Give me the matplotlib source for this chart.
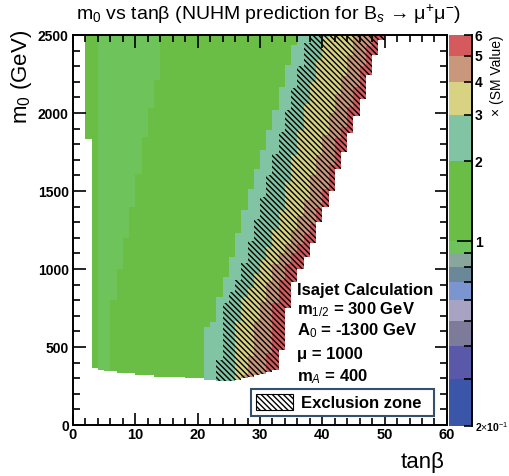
import numpy as np
import matplotlib
matplotlib.use("Agg")
import matplotlib.pyplot as plt
from matplotlib.colors import ListedColormap, BoundaryNorm
from matplotlib.patches import Patch

plt.rcParams['font.family'] = ['Liberation Sans', 'DejaVu Sans']
plt.rcParams['mathtext.fontset'] = 'custom'
plt.rcParams['mathtext.rm'] = 'Liberation Sans'
plt.rcParams['mathtext.it'] = 'Liberation Sans:italic'
plt.rcParams['mathtext.bf'] = 'Liberation Sans:bold'
plt.rcParams['hatch.color'] = 'black'
plt.rcParams['hatch.linewidth'] = 1.0

# palette levels (x SM value) and their colours
levels = [0.2, 0.3, 0.4, 0.5, 0.6, 0.7, 0.8, 0.9, 1, 2, 3, 4, 5, 6]
level_colors = ['#3b55a8', '#5a58a8', '#7c7b9a', '#a8a3c2', '#7b95d0', '#6a8898',
                '#88a69c', '#6ec35a', '#6abd45', '#80c4a4', '#d8d382', '#c9977c', '#d45a5e']

# tan(beta) bins (width 1), value read per column as m0 thresholds (GeV)
columns = list(range(2, 50))
floor_m0 = [1835, 363, 352, 346, 346, 335, 335, 335, 320, 320,
            320, 310, 310, 310, 310, 310, 299, 299, 299, 292,
            292, 284, 284, 284, 290, 300, 310, 320, 330, 340,
            350, 480, 750, 920, 1000, 1080, 1170, 1300, 1400, 1500,
            1640, 1750, 1870, 1980, 2090, 2244, 2370, 2470]
light_above = [9999, 9999, 0, 0, 800, 1000, 1200, 1400, 1611, 1845, 2037, 2208] + [9999] * 36
teal_below = [0] * 19 + [630, 660, 821, 950, 1080, 1230, 1380, 1510, 1640, 1760,
                         1890, 2020, 2170, 2308, 2436] + [2500] * 14
yellow_below = [0] * 24 + [670, 820, 880, 970, 1060, 1140, 1250, 1380, 1560, 1730,
                           1890, 2060, 2200, 2340, 2490] + [2500] * 9
tan_below = [0] * 25 + [320, 440, 672, 790, 915, 1035, 1100, 1160, 1250, 1340,
                        1442, 1600, 1730, 1860, 2000, 2120, 2240, 2370] + [2500] * 5
red_below = [0] * 29 + [460, 780, 930, 1030, 1100, 1160, 1225, 1290, 1390, 1510,
                        1670, 1840, 1910, 2040, 2170, 2300, 2430] + [2500] * 2
hatch_below = [0] * 21 + [420, 780, 850, 930, 1040, 1180, 1320, 1460, 1600, 1740,
                          1880, 2020, 2160, 2300, 2450] + [2500] * 12

info_lines = ['Isajet Calculation', r'm$_{1/2}$ = 300 GeV', r'A$_{0}$ = -1300 GeV',
              'μ = 1000', r'm$_{A}$ = 400']

fig = plt.figure(figsize=(5.10, 4.76), dpi=100)
ax = fig.add_axes([0.1431, 0.1071, 0.7333, 0.8193])
cax = fig.add_axes([0.8804, 0.105, 0.0451, 0.8214])

cmap = ListedColormap(level_colors)
norm = BoundaryNorm(levels, cmap.N)

x_edges = np.arange(0, 61)
y_edges = np.arange(0, 2505, 5)
yc = (y_edges[:-1] + y_edges[1:]) / 2
Z = np.full((len(yc), 60), np.nan)
for i, c in enumerate(columns):
    v = np.where(yc >= light_above[i], 0.95, 1.5)
    v = np.where(yc < teal_below[i], 2.5, v)
    v = np.where(yc < yellow_below[i], 3.5, v)
    v = np.where(yc < tan_below[i], 4.5, v)
    v = np.where(yc < red_below[i], 5.5, v)
    Z[:, c] = np.where(yc >= floor_m0[i], v, np.nan)

ax.pcolormesh(x_edges, y_edges, np.ma.masked_invalid(Z), cmap=cmap, norm=norm)

hatch = '\\' * 6
for i, c in enumerate(columns):
    top = min(hatch_below[i], 2500)
    if top > floor_m0[i]:
        ax.bar(c, top - floor_m0[i], bottom=floor_m0[i], width=1, align='edge',
               color='none', hatch=hatch, linewidth=0)

ax.set_xlim(0, 60)
ax.set_ylim(0, 2500)
ax.set_xticks(np.arange(0, 61, 10))
ax.set_xticks(np.arange(0, 61, 2), minor=True)
ax.set_yticks(np.arange(0, 2501, 500))
ax.set_yticks(np.arange(0, 2501, 100), minor=True)
ax.tick_params(which='both', direction='in', top=True, right=True, width=1.2)
ax.tick_params(which='major', length=9)
ax.tick_params(which='minor', length=5)
ax.tick_params(axis='x', which='major', labelsize=10.5, pad=2)
ax.tick_params(axis='y', which='major', labelsize=10, pad=3)
for lab in ax.get_xticklabels() + ax.get_yticklabels():
    lab.set_fontweight('bold')
for s in ax.spines.values():
    s.set_linewidth(1.4)

ypix = [865, 737, 602, 449, 308]
for txt, y in zip(info_lines, ypix):
    ax.text(35.9, y, txt, fontsize=12, fontweight='bold', va='center', ha='left')

leg = ax.legend(handles=[Patch(facecolor='white', edgecolor='black', hatch=hatch,
                               linewidth=0.8, label='Exclusion zone')],
                loc='lower left', bbox_to_anchor=(0.476, 0.023, 0.489, 0.08),
                mode='expand', fancybox=False, framealpha=1, borderpad=0.3,
                handlelength=2.2, handleheight=1.1, handletextpad=0.5,
                borderaxespad=0.0, prop={'weight': 'bold', 'size': 12})
leg.get_frame().set_edgecolor('#34506a')
leg.get_frame().set_linewidth(1.5)

# colour palette axis (log scale)
for lo, hi, col in zip(levels[:-1], levels[1:], level_colors):
    cax.axhspan(lo, hi, color=col, lw=0)
cax.set_yscale('log')
cax.set_ylim(0.2, 6)
cax.set_xlim(0, 1)
cax.set_xticks([])
cax.yaxis.tick_right()
cax.set_yticks([0.2, 1, 2, 3, 4, 5, 6])
cax.set_yticklabels([r'2$\times$10$^{-1}$', '1', '2', '3', '4', '5', '6'])
cax.set_yticks([0.3, 0.4, 0.5, 0.6, 0.7, 0.8, 0.9], minor=True)
cax.yaxis.set_minor_formatter(plt.NullFormatter())
cax.tick_params(axis='y', which='both', direction='in', width=1.2, labelsize=10, pad=2)
cax.tick_params(axis='y', which='major', length=6)
cax.tick_params(axis='y', which='minor', length=6)
cax.yaxis.get_major_ticks()[1].tick2line.set_markersize(11)
ticklabels = cax.get_yticklabels()
for lab in ticklabels:
    lab.set_fontweight('bold')
ticklabels[0].set_fontsize(7.5)
for k in ['left', 'top', 'bottom']:
    cax.spines[k].set_visible(False)
cax.spines['right'].set_linewidth(1.4)

fig.text(0.526, 0.970, r'm$_{0}$ vs tanβ (NUHM prediction for B$_{s}$ → μ$^{+}$μ$^{-}$)',
         ha='center', va='center', fontsize=14)
fig.text(0.043, 0.937, r'm$_{0}$ (GeV)', rotation=90, ha='center', va='top', fontsize=16)
fig.text(0.8725, 0.029, 'tanβ', ha='right', va='center', fontsize=16)
fig.text(0.975, 0.926, '× (SM Value)', rotation=90, ha='center', va='top', fontsize=10)

fig.savefig('out.png', dpi=100)
